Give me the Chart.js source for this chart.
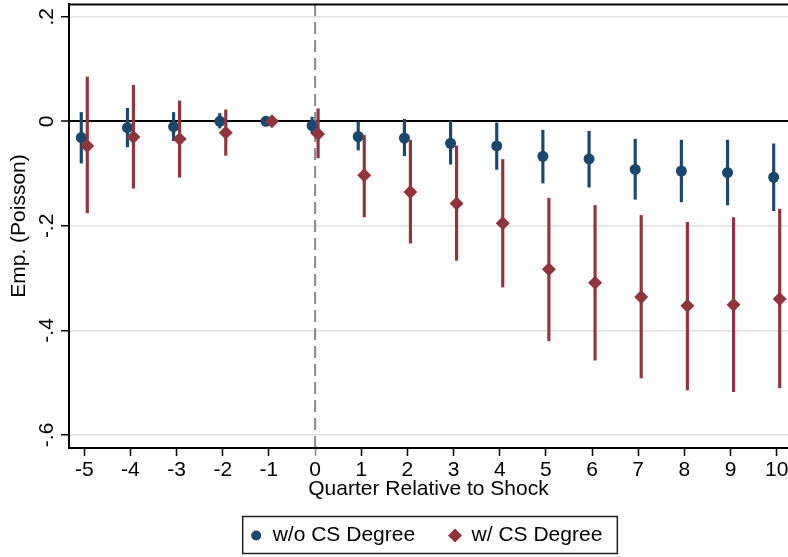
<!DOCTYPE html>
<html>
<head>
<meta charset="utf-8">
<script src="https://cdn.jsdelivr.net/npm/chart.js@4.4.1/dist/chart.umd.min.js"></script>
<style>
  html, body { margin: 0; padding: 0; background: #fff; }
  #chart { display: block; }
</style>
</head>
<body>
<canvas id="chart" width="788" height="557"></canvas>
<script>
const quarters = [-5, -4, -3, -2, -1, 0, 1, 2, 3, 4, 5, 6, 7, 8, 9, 10];

// w/o CS Degree: estimate and 95% CI (quarter -1 is the omitted reference)
const noCsEst = [-0.031, -0.012, -0.010, 0.000, 0, -0.008, -0.029, -0.032, -0.042, -0.047, -0.067, -0.072, -0.092, -0.095, -0.098, -0.107];
const noCsLo  = [-0.080, -0.049, -0.037, -0.013, null, -0.023, -0.055, -0.066, -0.082, -0.092, -0.118, -0.126, -0.149, -0.154, -0.160, -0.171];
const noCsHi  = [0.017, 0.025, 0.017, 0.015, null, 0.008, -0.001, 0.004, 0.001, -0.003, -0.017, -0.019, -0.034, -0.036, -0.036, -0.043];

// w/ CS Degree
const csEst = [-0.047, -0.030, -0.034, -0.022, 0, -0.024, -0.103, -0.135, -0.157, -0.195, -0.283, -0.309, -0.336, -0.353, -0.351, -0.340];
const csLo  = [-0.175, -0.128, -0.107, -0.065, null, -0.070, -0.183, -0.233, -0.266, -0.317, -0.420, -0.457, -0.491, -0.514, -0.517, -0.510];
const csHi  = [0.085, 0.069, 0.039, 0.022, null, 0.024, -0.027, -0.036, -0.047, -0.073, -0.147, -0.161, -0.180, -0.193, -0.184, -0.168];

const seriesNames = ["w/o CS Degree", "w/ CS Degree"];
const yTicks = [0.2, 0, -0.2, -0.4, -0.6];
const yTickLabels = [".2", "0", "-.2", "-.4", "-.6"];
const shockQuarter = 0;

const NAVY = "#1a476f";
const MAROON = "#90353b";
const FONT = '"Liberation Sans", Arial, sans-serif';
const FS = 21;
const DODGE = 0.065;

function points(est, shift) {
  return quarters.map((q, i) => ({ x: q + shift, y: est[i] }));
}

function intervals(lo, hi, shift) {
  return quarters
    .map((q, i) => (lo[i] === null ? null : { x: q + shift, y: [lo[i], hi[i]] }))
    .filter(d => d);
}

// ── Plot furniture: dashed shock line, top frame, boxed legend ──────────────
const furniture = {
  id: "furniture",
  beforeDatasetsDraw(chart) {
    const { ctx, chartArea: a, scales: { x } } = chart;
    const px = x.getPixelForValue(shockQuarter);
    ctx.save();
    ctx.strokeStyle = "#8a8a8a";
    ctx.lineWidth = 2;
    ctx.setLineDash([12, 6]);
    ctx.beginPath();
    ctx.moveTo(px, a.top);
    ctx.lineTo(px, a.bottom - 1);
    ctx.stroke();
    ctx.restore();
  },
  afterDraw(chart) {
    const { ctx, chartArea: a } = chart;
    ctx.save();
    // top frame
    ctx.strokeStyle = "#000";
    ctx.lineWidth = 2;
    ctx.beginPath();
    ctx.moveTo(a.left, a.top + 0.5);
    ctx.lineTo(a.right, a.top + 0.5);
    ctx.stroke();

    // legend
    ctx.font = `${FS}px ${FONT}`;
    const w1 = ctx.measureText(seriesNames[0]).width;
    const w2 = ctx.measureText(seriesNames[1]).width;
    const boxW = 13.5 + 16.5 + w1 + 40 + 16.5 + w2 + 15;
    const left = (a.left + a.right) / 2 + 1.5 - boxW / 2;
    const top = chart.height - 40.5;
    const h = 37;
    const cy = top + h / 2 + 0.5;

    ctx.lineWidth = 1.5;
    ctx.strokeStyle = "#222";
    ctx.strokeRect(left, top, boxW, h);

    let xx = left + 13.5;
    ctx.fillStyle = NAVY;
    ctx.beginPath();
    ctx.arc(xx, cy, 5, 0, Math.PI * 2);
    ctx.fill();
    xx += 16.5;
    ctx.fillStyle = "#000";
    ctx.textBaseline = "middle";
    ctx.textAlign = "left";
    ctx.fillText(seriesNames[0], xx, cy);
    xx += w1 + 40;
    ctx.fillStyle = MAROON;
    ctx.beginPath();
    ctx.moveTo(xx - 7, cy);
    ctx.lineTo(xx, cy - 7);
    ctx.lineTo(xx + 7, cy);
    ctx.lineTo(xx, cy + 7);
    ctx.closePath();
    ctx.fill();
    xx += 16.5;
    ctx.fillStyle = "#000";
    ctx.fillText(seriesNames[1], xx, cy);
    ctx.restore();
  }
};

new Chart(document.getElementById("chart"), {
  type: "scatter",
  data: {
    datasets: [
      {
        type: "bar",
        data: intervals(noCsLo, noCsHi, -DODGE),
        backgroundColor: NAVY,
        barThickness: 2.5,
        grouped: false,
        borderWidth: 0,
        order: 4,
      },
      {
        type: "scatter",
        label: seriesNames[0],
        data: points(noCsEst, -DODGE),
        backgroundColor: NAVY,
        borderWidth: 0,
        pointRadius: 5.5,
        pointStyle: "circle",
        order: 3,
      },
      {
        type: "bar",
        data: intervals(csLo, csHi, DODGE),
        backgroundColor: MAROON,
        barThickness: 2.5,
        grouped: false,
        borderWidth: 0,
        order: 2,
      },
      {
        type: "scatter",
        label: seriesNames[1],
        data: points(csEst, DODGE),
        backgroundColor: MAROON,
        borderWidth: 0,
        pointRadius: 7,
        pointStyle: "rectRot",
        order: 1,
      },
    ],
  },
  options: {
    responsive: false,
    animation: false,
    events: [],
    layout: { autoPadding: false, padding: { top: 4, right: 0, bottom: 47, left: 0 } },
    plugins: {
      legend: { display: false },
      tooltip: { enabled: false },
    },
    scales: {
      x: {
        type: "linear",
        min: -5.331,
        max: 10.245,
        offset: false,
        afterBuildTicks: axis => { axis.ticks = quarters.map(v => ({ value: v })); },
        afterFit: axis => {
          axis.height = 62;
          axis.paddingLeft = 0;
          axis.paddingRight = 0;
        },
        ticks: {
          autoSkip: false,
          maxRotation: 0,
          padding: 2,
          color: "#000",
          font: { family: FONT, size: FS },
        },
        grid: {
          offset: false,
          drawOnChartArea: false,
          drawTicks: true,
          tickLength: 8,
          tickWidth: 1.5,
          tickColor: ctx => (ctx.tick && ctx.tick.value === shockQuarter ? "#8a8a8a" : "#000"),
        },
        border: { display: true, color: "#000", width: 2 },
        title: {
          display: true,
          text: "Quarter Relative to Shock",
          color: "#000",
          font: { family: FONT, size: FS, lineHeight: 1.2 },
          padding: { top: 0, bottom: 8 },
        },
      },
      y: {
        type: "linear",
        min: -0.625,
        max: 0.2245,
        afterBuildTicks: axis => { axis.ticks = yTicks.map(v => ({ value: v })); },
        afterFit: axis => {
          axis.width = 69;
          axis.paddingTop = 0;
          axis.paddingBottom = 0;
        },
        ticks: {
          minRotation: 90,
          maxRotation: 90,
          crossAlign: "center",
          padding: 2,
          color: "#000",
          font: { family: FONT, size: FS },
          callback: (v, i) => yTickLabels[i],
        },
        grid: {
          color: ctx => (ctx.tick && ctx.tick.value === 0 ? "#000" : "#e0e0e0"),
          lineWidth: ctx => (ctx.tick && ctx.tick.value === 0 ? 2 : 1.5),
          drawTicks: true,
          tickLength: 8,
          tickWidth: 1.5,
          tickColor: "#000",
        },
        border: { display: true, color: "#000", width: 2 },
        title: {
          display: true,
          text: "Emp. (Poisson)",
          color: "#000",
          font: { family: FONT, size: FS, lineHeight: 1.2 },
          padding: { top: 7, bottom: 0 },
        },
      },
    },
  },
  plugins: [furniture],
});
</script>
</body>
</html>
